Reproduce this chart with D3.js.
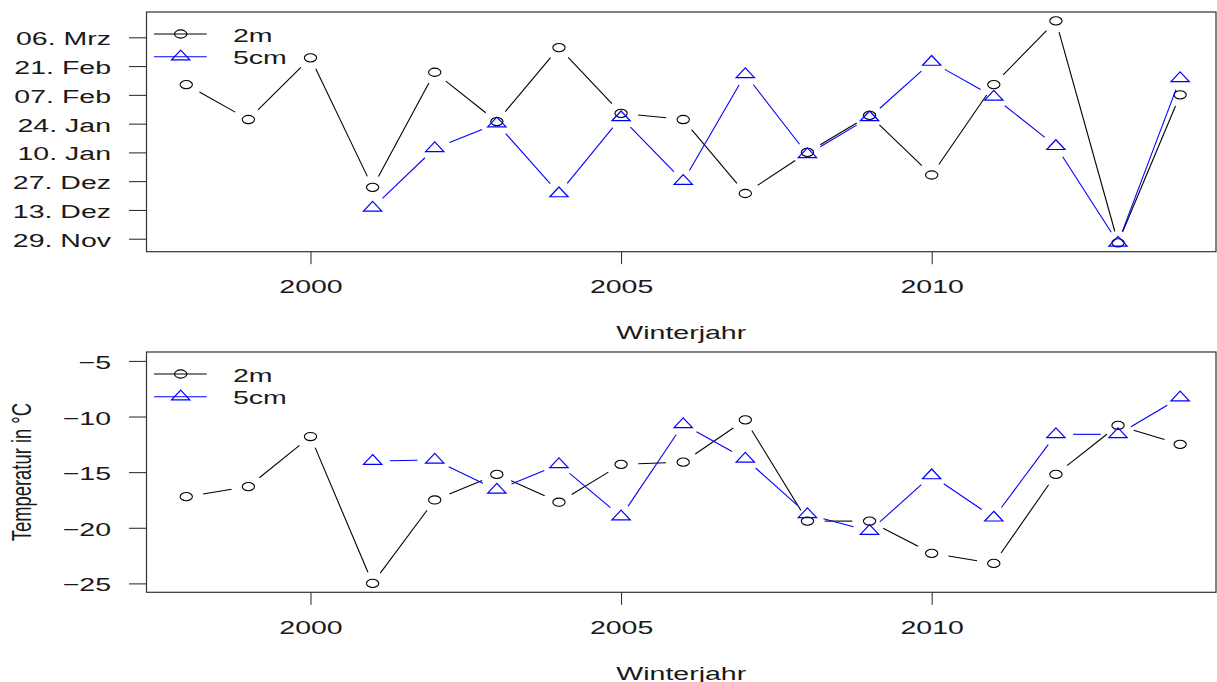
<!DOCTYPE html>
<html>
<head>
<meta charset="utf-8">
<script src="https://cdn.jsdelivr.net/npm/d3@7"></script>
<style>
  body { margin: 0; background: #fff; }
  svg { display: block; }
  text { font-family: "Liberation Sans", Arial, sans-serif; fill: #1a1a1a; }
</style>
</head>
<body>
<svg id="chart" width="1217" height="682"></svg>
<script>
// ---- data -------------------------------------------------------------
const years = [1998, 1999, 2000, 2001, 2002, 2003, 2004, 2005, 2006,
               2007, 2008, 2009, 2010, 2011, 2012, 2013, 2014];

// date of the winter event ("MM-DD"), per winter year
const onset2m  = ["02-12", "01-26", "02-25", "12-24", "02-18", "01-25", "03-01", "01-29", "01-26",
                  "12-21", "01-10", "01-28", "12-30", "02-12", "03-14", "11-27", "02-07"];
const onset5cm = [null, null, null, "12-14", "01-12", "01-24", "12-21", "01-27", "12-27",
                  "02-17", "01-09", "01-27", "02-23", "02-06", "01-13", "11-27", "02-15"];

// temperature in °C, per winter year
const temp2m  = [-17.2, -16.3, -11.8, -25.0, -17.5, -15.2, -17.7, -14.3, -14.1,
                 -10.3, -19.4, -19.4, -22.3, -23.2, -15.2, -10.8, -12.5];
const temp5cm = [null, null, null, -14.0, -13.9, -16.6, -14.3, -19.0, -10.7,
                 -13.8, -18.8, -20.3, -15.3, -19.1, -11.6, -11.6, -8.3];

const dateTicks = ["11-29", "12-13", "12-27", "01-10", "01-24", "02-07", "02-21", "03-06"];
const tempTicks = [-25, -20, -15, -10, -5];
const tempLimits = [-25, -5];
const yearTicks = [2000, 2005, 2010];

const seriesNames  = ["2m", "5cm"];
const seriesColors = ["#000000", "#0000ff"];
const seriesShapes = ["circle", "triangle"];

// ---- layout -----------------------------------------------------------
const SX = 1.5;          // horizontal stretch of glyphs and symbols
const FONT = 19;
const boxLeft = 146.5, boxRight = 1216;
const panels = [
  { top: 12,  bottom: 251.7 },
  { top: 352, bottom: 592.3 }
];

const svg = d3.select("#chart");

// month/day mapped onto one reference winter (Nov 2011 – Mar 2012)
function seasonDate(md) {
  if (md == null) return null;
  const [m, d] = md.split("-").map(Number);
  return new Date(m >= 8 ? 2011 : 2012, m - 1, d);
}

const de = d3.timeFormatLocale({
  dateTime: "%A, der %e. %B %Y, %X", date: "%d.%m.%Y", time: "%H:%M:%S",
  periods: ["AM", "PM"],
  days: ["Sonntag", "Montag", "Dienstag", "Mittwoch", "Donnerstag", "Freitag", "Samstag"],
  shortDays: ["So", "Mo", "Di", "Mi", "Do", "Fr", "Sa"],
  months: ["Januar", "Februar", "März", "April", "Mai", "Juni", "Juli", "August",
           "September", "Oktober", "November", "Dezember"],
  shortMonths: ["Jan", "Feb", "Mrz", "Apr", "Mai", "Jun", "Jul", "Aug", "Sep", "Okt", "Nov", "Dez"]
});
const fmtDay = de.format("%d. %b");

// 4 % padding on both ends of a numeric range
function pad4([a, b]) {
  const p = (b - a) * 0.04;
  return [a - p, b + p];
}

const x = d3.scaleLinear()
  .domain(pad4(d3.extent(years)))
  .range([boxLeft, 1219.9]);

// ---- helpers ----------------------------------------------------------
function symbol(g, shape, cx, cy, color) {
  if (shape === "circle") {
    g.append("ellipse")
      .attr("cx", cx).attr("cy", cy)
      .attr("rx", 4.1 * SX).attr("ry", 4.1)
      .attr("fill", "none").attr("stroke", color).attr("stroke-width", 1.1);
  } else {
    const r = 6.5, xc = 6.1 * SX, yc = r / 2;
    g.append("path")
      .attr("d", `M${cx},${cy - r}L${cx + xc},${cy + yc}L${cx - xc},${cy + yc}Z`)
      .attr("fill", "none").attr("stroke", color).attr("stroke-width", 1.2);
  }
}

// connecting lines that stop short of each point
function gappedLines(g, pts, color) {
  const gap = 11.5;
  for (let i = 1; i < pts.length; i++) {
    const a = pts[i - 1], b = pts[i];
    if (!a || !b) continue;
    const dx = b[0] - a[0], dy = b[1] - a[1];
    const L = Math.hypot(dx / SX, dy);
    if (L <= 2 * gap) continue;
    const f = gap / L;
    g.append("line")
      .attr("x1", a[0] + dx * f).attr("y1", a[1] + dy * f)
      .attr("x2", b[0] - dx * f).attr("y2", b[1] - dy * f)
      .attr("stroke", color).attr("stroke-width", 1.1);
  }
}

function stretchText(sel, tx, ty) {
  sel.attr("x", 0).attr("y", 0).attr("dy", null)
     .attr("transform", `translate(${tx},${ty}) scale(${SX},1)`);
}

function drawPanel(panel, y, yAxis, series) {
  const g = svg.append("g");

  // y axis
  g.append("g")
    .attr("transform", `translate(${boxLeft},0)`)
    .call(yAxis.tickSize(17.5))
    .call(a => a.select(".domain").remove())
    .call(a => a.selectAll(".tick line").attr("stroke", "#222"))
    .call(a => a.selectAll(".tick text")
      .attr("font-size", FONT).attr("fill", "#1a1a1a")
      .attr("text-anchor", "end")
      .each(function () { stretchText(d3.select(this), -35.5, 7.5); }));

  // x axis
  g.append("g")
    .attr("transform", `translate(0,${panel.bottom})`)
    .call(d3.axisBottom(x).tickValues(yearTicks).tickFormat(d3.format("d")).tickSize(12.5))
    .call(a => a.select(".domain").remove())
    .call(a => a.selectAll(".tick line").attr("stroke", "#222"))
    .call(a => a.selectAll(".tick text")
      .attr("font-size", FONT).attr("fill", "#1a1a1a")
      .attr("text-anchor", "middle")
      .each(function () { stretchText(d3.select(this), 0, 41.6); }));

  g.append("text")
    .attr("font-size", FONT).attr("text-anchor", "middle")
    .text("Winterjahr")
    .call(t => stretchText(t, (boxLeft + boxRight) / 2, panel.bottom + 87.6));

  // series
  series.forEach((vals, si) => {
    const pts = vals.map((v, i) => v == null ? null : [x(years[i]), y(v)]);
    const sg = g.append("g");
    gappedLines(sg, pts, seriesColors[si]);
    pts.forEach(p => { if (p) symbol(sg, seriesShapes[si], p[0], p[1], seriesColors[si]); });
  });

  // legend
  const lg = g.append("g");
  seriesNames.forEach((name, si) => {
    const ly = panel.top + 22 + si * 22.7;
    lg.append("line")
      .attr("x1", 154).attr("x2", 206.7).attr("y1", ly).attr("y2", ly)
      .attr("stroke", seriesColors[si]).attr("stroke-width", 1.1);
    symbol(lg, seriesShapes[si], 180.7, ly, seriesColors[si]);
    lg.append("text").attr("font-size", FONT).text(name)
      .call(t => stretchText(t, 233, ly + 7.5));
  });

  // frame
  g.append("rect")
    .attr("x", boxLeft).attr("y", panel.top)
    .attr("width", boxRight - boxLeft).attr("height", panel.bottom - panel.top)
    .attr("fill", "none").attr("stroke", "#333").attr("stroke-width", 1.2);
}

// ---- top panel: dates -------------------------------------------------
const dates2m  = onset2m.map(seasonDate);
const dates5cm = onset5cm.map(seasonDate);
const allDates = dates2m.concat(dates5cm).filter(d => d);
const [dMin, dMax] = d3.extent(allDates, d => +d);
const yTop = d3.scaleTime()
  .domain(pad4([dMin, dMax]).map(t => new Date(t)))
  .range([panels[0].bottom, panels[0].top]);

drawPanel(panels[0], yTop,
  d3.axisLeft(yTop).tickValues(dateTicks.map(seasonDate)).tickFormat(fmtDay),
  [dates2m, dates5cm]);

// ---- bottom panel: temperatures ---------------------------------------
const yBot = d3.scaleLinear()
  .domain(pad4(tempLimits))
  .range([panels[1].bottom, panels[1].top]);

drawPanel(panels[1], yBot,
  d3.axisLeft(yBot).tickValues(tempTicks).tickFormat(d3.format("d")),
  [temp2m, temp5cm]);

svg.append("text")
  .attr("font-size", 18.4).attr("text-anchor", "middle")
  .attr("transform", `translate(31,${(panels[1].top + panels[1].bottom) / 2}) scale(${SX},1) rotate(-90)`)
  .text("Temperatur in °C");
</script>
</body>
</html>
